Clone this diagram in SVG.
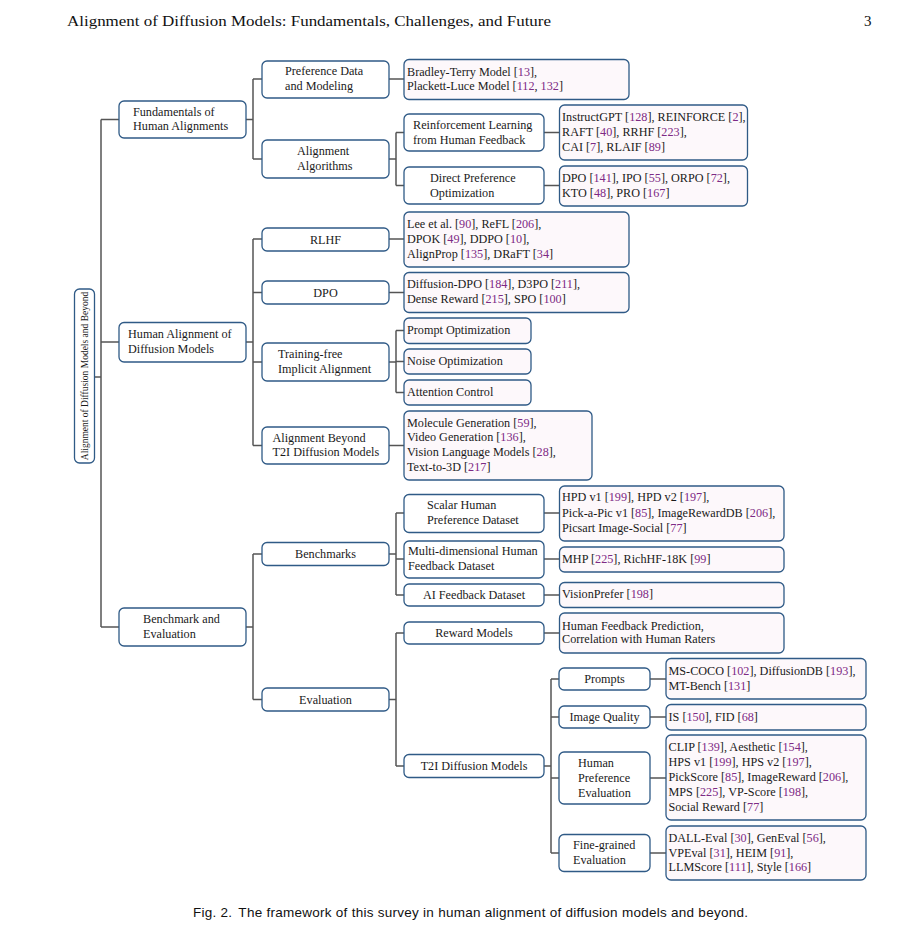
<svg xmlns="http://www.w3.org/2000/svg" width="911" height="929" viewBox="0 0 911 929">
<style>
.bg{fill:#ffffff}
.n{fill:#ffffff;stroke:#2f5a86;stroke-width:1.3}
.l{fill:#fdf8fb;stroke:#2f5a86;stroke-width:1.3}
.t{font-family:"Liberation Serif","Times New Roman",serif;font-size:12.2px;fill:#1a1a1a}
.c{text-anchor:middle}
.ci{fill:#7d2a85}
.cn{fill:none;stroke:#555555;stroke-width:1.5}
.hd{font-family:"Liberation Serif","Times New Roman",serif;font-size:15px;fill:#111}
.cap{font-family:"Liberation Sans",Arial,sans-serif;font-size:13.5px;fill:#111}
</style>
<rect class="bg" x="0" y="0" width="911" height="929"/>
<text class="hd" x="67" y="26" textLength="484" lengthAdjust="spacingAndGlyphs">Alignment of Diffusion Models: Fundamentals, Challenges, and Future</text>
<text class="hd" x="864" y="26">3</text>

<g id="connectors">
<path class="cn" d="M94.3,377H101M101,119.5V627M101,119.5H119M101,342H119M101,627H119"/>
<path class="cn" d="M246,119.5H253M253,79V159M253,79H262M253,159H262"/>
<path class="cn" d="M389,79H404"/>
<path class="cn" d="M389,159H396M396,132.5V185.5M396,132.5H404M396,185.5H404"/>
<path class="cn" d="M544,132.5H559.5M544,185.5H559.5"/>
<path class="cn" d="M246,342H253M253,239V445.5M253,239H262M253,292.5H262M253,362H262M253,445.5H262"/>
<path class="cn" d="M389,239H404M389,292.5H404M389,445.5H404"/>
<path class="cn" d="M389,362H396M396,330.5V392.5M396,330.5H404M396,361.5H404M396,392.5H404"/>
<path class="cn" d="M246,627H253M253,554V699.5M253,554H262M253,699.5H262"/>
<path class="cn" d="M389,554H396M396,513V595M396,513H404M396,559H404M396,595H404"/>
<path class="cn" d="M544,513H559.5M544,559H559.5M544,595H559.5"/>
<path class="cn" d="M389,699.5H396M396,633V766M396,633H404M396,766H404"/>
<path class="cn" d="M544,633H559.5"/>
<path class="cn" d="M544,766H551M551,679V853M551,679H559M551,717H559M551,778H559M551,853H559"/>
<path class="cn" d="M650,679H666M650,717H666M650,778H666M650,853H666"/>
</g>

<g id="root">
<rect class="n" x="74.5" y="289" width="20" height="174" rx="5"/>
<text class="t" style="font-size:9.5px" text-anchor="middle" transform="translate(87.6,376) rotate(-90)">Alignment of Diffusion Models and Beyond</text>
</g>

<g id="fundamentals">
<rect class="n" x="119" y="101" width="127" height="37" rx="5"/>
<text class="t" x="133" y="115.7">Fundamentals of</text>
<text class="t" x="133" y="130.2">Human Alignments</text>
</g>
<g id="human-alignment">
<rect class="n" x="119" y="322.5" width="127" height="39.5" rx="5"/>
<text class="t" x="128" y="338">Human Alignment of</text>
<text class="t" x="128" y="353">Diffusion Models</text>
</g>
<g id="benchmark-evaluation">
<rect class="n" x="119" y="608" width="127" height="38" rx="5"/>
<text class="t" x="143" y="623">Benchmark and</text>
<text class="t" x="143" y="637.5">Evaluation</text>
</g>

<g id="preference-data">
<rect class="n" x="262" y="61" width="127" height="37" rx="5"/>
<text class="t" x="285" y="75">Preference Data</text>
<text class="t" x="285" y="89.7">and Modeling</text>
</g>
<g id="alignment-algorithms">
<rect class="n" x="262" y="140" width="127" height="38" rx="5"/>
<text class="t" x="297" y="155">Alignment</text>
<text class="t" x="297" y="170">Algorithms</text>
</g>
<g id="rlhf">
<rect class="n" x="262" y="228" width="127" height="23" rx="5"/>
<text class="t c" x="325.5" y="243.5">RLHF</text>
</g>
<g id="dpo">
<rect class="n" x="262" y="281" width="127" height="23" rx="5"/>
<text class="t c" x="325.5" y="296.5">DPO</text>
</g>
<g id="training-free">
<rect class="n" x="262" y="343" width="127" height="38" rx="5"/>
<text class="t" x="278" y="357.5">Training-free</text>
<text class="t" x="278" y="372.5">Implicit Alignment</text>
</g>
<g id="alignment-beyond">
<rect class="n" x="262" y="427" width="127" height="37" rx="5"/>
<text class="t" x="272.5" y="441.5">Alignment Beyond</text>
<text class="t" x="272.5" y="456">T2I Diffusion Models</text>
</g>
<g id="benchmarks">
<rect class="n" x="262" y="542.5" width="127" height="23" rx="5"/>
<text class="t c" x="325.5" y="558">Benchmarks</text>
</g>
<g id="evaluation">
<rect class="n" x="262" y="688" width="127" height="23" rx="5"/>
<text class="t c" x="325.5" y="703.5">Evaluation</text>
</g>

<g id="rl-from-hf">
<rect class="n" x="404" y="114" width="140" height="37" rx="5"/>
<text class="t" x="413" y="129">Reinforcement Learning</text>
<text class="t" x="413" y="143.5">from Human Feedback</text>
</g>
<g id="direct-preference">
<rect class="n" x="404" y="167" width="140" height="37" rx="5"/>
<text class="t" x="430" y="181.7">Direct Preference</text>
<text class="t" x="430" y="196.7">Optimization</text>
</g>
<g id="scalar-human">
<rect class="n" x="404" y="494.5" width="140" height="38" rx="5"/>
<text class="t" x="427" y="509">Scalar Human</text>
<text class="t" x="427" y="524">Preference Dataset</text>
</g>
<g id="multi-dimensional">
<rect class="n" x="404" y="541" width="140" height="37" rx="5"/>
<text class="t" x="408" y="555">Multi-dimensional Human</text>
<text class="t" x="408" y="570">Feedback Dataset</text>
</g>
<g id="ai-feedback">
<rect class="n" x="404" y="584" width="140" height="22" rx="5"/>
<text class="t c" x="474" y="599">AI Feedback Dataset</text>
</g>
<g id="reward-models">
<rect class="n" x="404" y="622" width="140" height="22" rx="5"/>
<text class="t c" x="474" y="637">Reward Models</text>
</g>
<g id="t2i">
<rect class="n" x="404" y="754.5" width="140" height="23" rx="5"/>
<text class="t c" x="474" y="770">T2I Diffusion Models</text>
</g>

<g id="prompts">
<rect class="n" x="559" y="668" width="91" height="22" rx="5"/>
<text class="t c" x="604.5" y="683">Prompts</text>
</g>
<g id="image-quality">
<rect class="n" x="559" y="706" width="91" height="22" rx="5"/>
<text class="t c" x="604.5" y="721">Image Quality</text>
</g>
<g id="human-pref-eval">
<rect class="n" x="559" y="752" width="91" height="52" rx="5"/>
<text class="t" x="578" y="766.5">Human</text>
<text class="t" x="578" y="781.5">Preference</text>
<text class="t" x="578" y="796.5">Evaluation</text>
</g>
<g id="fine-grained">
<rect class="n" x="559" y="834.5" width="91" height="37" rx="5"/>
<text class="t" x="573" y="849">Fine-grained</text>
<text class="t" x="573" y="864">Evaluation</text>
</g>

<g id="leaf-bradley">
<rect class="l" x="404" y="59.5" width="225" height="40" rx="5"/>
<text class="t" x="407" y="75.7">Bradley-Terry Model [<tspan class="ci">13</tspan>],</text>
<text class="t" x="407" y="90">Plackett-Luce Model [<tspan class="ci">112</tspan>, <tspan class="ci">132</tspan>]</text>
</g>
<g id="leaf-instructgpt">
<rect class="l" x="559.5" y="105" width="188" height="55" rx="5"/>
<text class="t" x="562" y="120.7">InstructGPT [<tspan class="ci">128</tspan>], REINFORCE [<tspan class="ci">2</tspan>],</text>
<text class="t" x="562" y="135.7">RAFT [<tspan class="ci">40</tspan>], RRHF [<tspan class="ci">223</tspan>],</text>
<text class="t" x="562" y="150.7">CAI [<tspan class="ci">7</tspan>], RLAIF [<tspan class="ci">89</tspan>]</text>
</g>
<g id="leaf-dpo-llm">
<rect class="l" x="559.5" y="166" width="188" height="40" rx="5"/>
<text class="t" x="562" y="181.7">DPO [<tspan class="ci">141</tspan>], IPO [<tspan class="ci">55</tspan>], ORPO [<tspan class="ci">72</tspan>],</text>
<text class="t" x="562" y="196.7">KTO [<tspan class="ci">48</tspan>], PRO [<tspan class="ci">167</tspan>]</text>
</g>
<g id="leaf-rlhf">
<rect class="l" x="404" y="212" width="225" height="55" rx="5"/>
<text class="t" x="407" y="227.8">Lee et al. [<tspan class="ci">90</tspan>], ReFL [<tspan class="ci">206</tspan>],</text>
<text class="t" x="407" y="242.8">DPOK [<tspan class="ci">49</tspan>], DDPO [<tspan class="ci">10</tspan>],</text>
<text class="t" x="407" y="257.5">AlignProp [<tspan class="ci">135</tspan>], DRaFT [<tspan class="ci">34</tspan>]</text>
</g>
<g id="leaf-dpo">
<rect class="l" x="404" y="272.5" width="225" height="40" rx="5"/>
<text class="t" x="407" y="288.3">Diffusion-DPO [<tspan class="ci">184</tspan>], D3PO [<tspan class="ci">211</tspan>],</text>
<text class="t" x="407" y="303.3">Dense Reward [<tspan class="ci">215</tspan>], SPO [<tspan class="ci">100</tspan>]</text>
</g>
<g id="leaf-prompt-opt">
<rect class="l" x="404" y="318" width="127" height="25.5" rx="5"/>
<text class="t" x="407" y="334">Prompt Optimization</text>
</g>
<g id="leaf-noise-opt">
<rect class="l" x="404" y="349" width="127" height="25" rx="5"/>
<text class="t" x="407" y="365">Noise Optimization</text>
</g>
<g id="leaf-attention">
<rect class="l" x="404" y="380" width="127" height="25" rx="5"/>
<text class="t" x="407" y="395.7">Attention Control</text>
</g>
<g id="leaf-beyond">
<rect class="l" x="404" y="411" width="188" height="69" rx="5"/>
<text class="t" x="407" y="426.7">Molecule Generation [<tspan class="ci">59</tspan>],</text>
<text class="t" x="407" y="441.3">Video Generation [<tspan class="ci">136</tspan>],</text>
<text class="t" x="407" y="456">Vision Language Models [<tspan class="ci">28</tspan>],</text>
<text class="t" x="407" y="470.7">Text-to-3D [<tspan class="ci">217</tspan>]</text>
</g>
<g id="leaf-hpd">
<rect class="l" x="559.5" y="486" width="224.5" height="55" rx="5"/>
<text class="t" x="562" y="501.3">HPD v1 [<tspan class="ci">199</tspan>], HPD v2 [<tspan class="ci">197</tspan>],</text>
<text class="t" x="562" y="516.7">Pick-a-Pic v1 [<tspan class="ci">85</tspan>], ImageRewardDB [<tspan class="ci">206</tspan>],</text>
<text class="t" x="562" y="531.7">Picsart Image-Social [<tspan class="ci">77</tspan>]</text>
</g>
<g id="leaf-mhp">
<rect class="l" x="559.5" y="547" width="224.5" height="25" rx="5"/>
<text class="t" x="562" y="563">MHP [<tspan class="ci">225</tspan>], RichHF-18K [<tspan class="ci">99</tspan>]</text>
</g>
<g id="leaf-visionprefer">
<rect class="l" x="559.5" y="582.5" width="224.5" height="25" rx="5"/>
<text class="t" x="562" y="598.3">VisionPrefer [<tspan class="ci">198</tspan>]</text>
</g>
<g id="leaf-reward">
<rect class="l" x="559.5" y="613" width="224.5" height="40" rx="5"/>
<text class="t" x="562" y="629.7">Human Feedback Prediction,</text>
<text class="t" x="562" y="643.3">Correlation with Human Raters</text>
</g>
<g id="leaf-prompts">
<rect class="l" x="666" y="658.5" width="200" height="40.5" rx="5"/>
<text class="t" x="668.5" y="674.7">MS-COCO [<tspan class="ci">102</tspan>], DiffusionDB [<tspan class="ci">193</tspan>],</text>
<text class="t" x="668.5" y="689.7">MT-Bench [<tspan class="ci">131</tspan>]</text>
</g>
<g id="leaf-image-quality">
<rect class="l" x="666" y="704.5" width="200" height="25.5" rx="5"/>
<text class="t" x="668.5" y="721.3">IS [<tspan class="ci">150</tspan>], FID [<tspan class="ci">68</tspan>]</text>
</g>
<g id="leaf-human-pref">
<rect class="l" x="666" y="735" width="200" height="85" rx="5"/>
<text class="t" x="668.5" y="751.3">CLIP [<tspan class="ci">139</tspan>], Aesthetic [<tspan class="ci">154</tspan>],</text>
<text class="t" x="668.5" y="766.3">HPS v1 [<tspan class="ci">199</tspan>], HPS v2 [<tspan class="ci">197</tspan>],</text>
<text class="t" x="668.5" y="781.3">PickScore [<tspan class="ci">85</tspan>], ImageReward [<tspan class="ci">206</tspan>],</text>
<text class="t" x="668.5" y="796">MPS [<tspan class="ci">225</tspan>], VP-Score [<tspan class="ci">198</tspan>],</text>
<text class="t" x="668.5" y="810.5">Social Reward [<tspan class="ci">77</tspan>]</text>
</g>
<g id="leaf-fine-grained">
<rect class="l" x="666" y="826" width="200" height="54" rx="5"/>
<text class="t" x="668.5" y="842.3">DALL-Eval [<tspan class="ci">30</tspan>], GenEval [<tspan class="ci">56</tspan>],</text>
<text class="t" x="668.5" y="856.7">VPEval [<tspan class="ci">31</tspan>], HEIM [<tspan class="ci">91</tspan>],</text>
<text class="t" x="668.5" y="871.3">LLMScore [<tspan class="ci">111</tspan>], Style [<tspan class="ci">166</tspan>]</text>
</g>

<text class="cap" x="193" y="917" textLength="555" lengthAdjust="spacing">Fig. 2.<tspan dx="6">The framework of this survey in human alignment of diffusion models and beyond.</tspan></text>
</svg>
